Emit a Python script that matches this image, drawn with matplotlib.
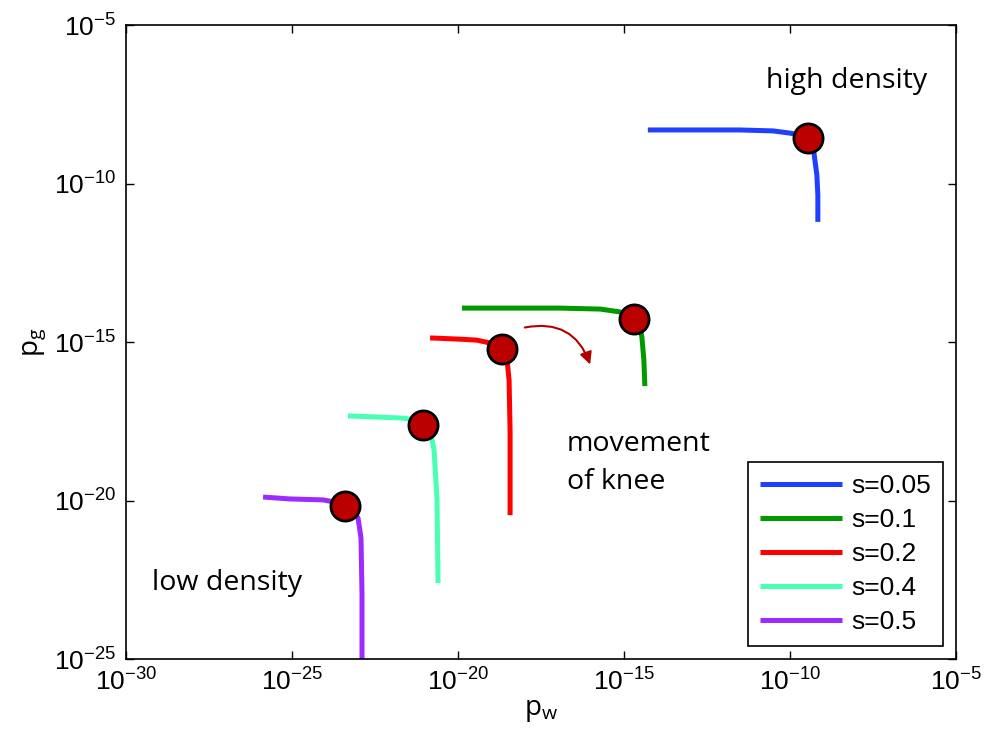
import numpy as np
import matplotlib.pyplot as plt
from matplotlib.patches import FancyArrowPatch

plt.rcParams['mathtext.fontset'] = 'custom'
plt.rcParams['mathtext.rm'] = 'Liberation Sans'
plt.rcParams['mathtext.it'] = 'Liberation Sans:italic'
plt.rcParams['font.family'] = 'Liberation Sans'

# curve points as log10 values
labels = ['s=0.05', 's=0.1', 's=0.2', 's=0.4', 's=0.5']
colors = ['#2040ff', '#009a00', '#ff0000', '#48ffb4', '#9b2bff']

logpw = [
    [-14.28, -12.71, -11.51, -10.51, -10.00, -9.70, -9.43, -9.28, -9.19, -9.16, -9.16],
    [-19.88, -16.93, -15.72, -15.12, -14.70, -14.52, -14.46, -14.40, -14.37],
    [-20.84, -19.94, -19.43, -19.04, -18.67, -18.52, -18.46, -18.43, -18.43],
    [-23.31, -22.35, -21.66, -21.30, -21.05, -20.81, -20.72, -20.63, -20.60],
    [-25.87, -25.06, -24.07, -23.70, -23.40, -23.16, -23.01, -22.92, -22.89, -22.89],
]
logpg = [
    [-8.31, -8.31, -8.31, -8.34, -8.41, -8.47, -8.56, -9.01, -9.73, -10.36, -11.21],
    [-13.93, -13.93, -13.96, -14.05, -14.27, -14.53, -14.84, -15.57, -16.39],
    [-14.87, -14.91, -14.94, -15.03, -15.22, -15.57, -16.20, -17.78, -20.46],
    [-17.33, -17.37, -17.40, -17.46, -17.62, -17.93, -18.41, -19.98, -22.60],
    [-19.89, -19.95, -19.98, -20.05, -20.17, -20.36, -20.55, -21.18, -22.98, -25.00],
]
# knee positions
knee_pw = [-9.46, -14.70, -18.67, -21.05, -23.40]
knee_pg = [-8.56, -14.27, -15.22, -17.62, -20.17]

fig = plt.figure(figsize=(9.84, 7.45), dpi=100)
ax = fig.add_axes([0.128, 0.1154, 0.8435, 0.851])

for xs, ys, c, lab in zip(logpw, logpg, colors, labels):
    ax.plot(10.0 ** np.array(xs), 10.0 ** np.array(ys), color=c, lw=3.6,
            label=lab, solid_capstyle='butt', solid_joinstyle='round')

ax.plot(10.0 ** np.array(knee_pw), 10.0 ** np.array(knee_pg), 'o', ms=21,
        mfc='#bb0000', mec='black', mew=2, zorder=5)

ax.set_xscale('log')
ax.set_yscale('log')
ax.set_xlim(1e-30, 1e-5)
ax.set_ylim(1e-25, 1e-5)
ax.set_xticks([10.0 ** k for k in range(-30, -4, 5)])
ax.set_yticks([10.0 ** k for k in range(-25, -4, 5)])
ax.minorticks_off()
ax.tick_params(direction='in', length=6, width=1, top=True, right=True,
               labelsize=19, pad=7)
for sp in ax.spines.values():
    sp.set_linewidth(1.2)

ax.set_xlabel('p$_\\mathregular{w}$', family='Open Sans', fontsize=20, labelpad=0)
ax.set_ylabel('p$_\\mathregular{g}$', family='Open Sans', fontsize=20, labelpad=4)

ax.text(10 ** -8.31, 10 ** -6.78, 'high density', family='Open Sans',
        fontsize=20.5, ha='center', va='center')
ax.text(10 ** -16.72, 10 ** -18.82, 'movement\nof knee', family='Open Sans',
        fontsize=20.5, ha='left', va='center', linespacing=1.45)
ax.text(10 ** -29.22, 10 ** -22.6, 'low density', family='Open Sans',
        fontsize=20.5, ha='left', va='center')

arrow = FancyArrowPatch((10 ** -18.07, 10 ** -14.56), (10 ** -15.99, 10 ** -15.79),
                        connectionstyle='arc3,rad=-0.45', arrowstyle='-|>',
                        mutation_scale=18, color='#b00000', lw=1.5)
ax.add_patch(arrow)

leg = ax.legend(loc='lower right', fontsize=19, handlelength=3.1,
                borderaxespad=0.5, labelspacing=0.38, fancybox=False,
                edgecolor='black', framealpha=1, handletextpad=0.35,
                borderpad=0.45)
leg.get_frame().set_linewidth(1.2)

fig.savefig('out.png', dpi=100)
